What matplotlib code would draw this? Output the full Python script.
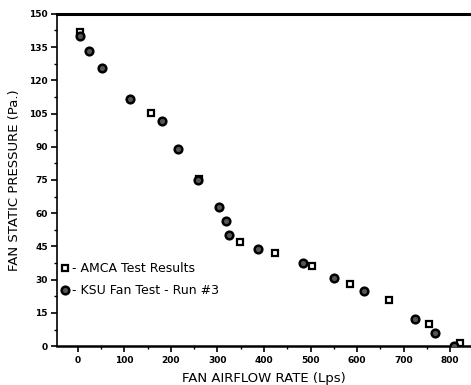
import matplotlib
matplotlib.use("Agg")
import matplotlib.pyplot as plt
from matplotlib.ticker import MultipleLocator

# AMCA test results (airflow Lps, static pressure Pa)
amca_flow = [5, 158, 260, 348, 423, 503, 585, 668, 755, 822]
amca_pres = [142, 105.3, 75.5, 47, 41.9, 36, 28.1, 20.8, 9.9, 1.4]

# KSU fan test - run #3
ksu_flow = [5, 24, 51, 113, 180, 216, 258, 303, 318, 325, 388, 483, 551, 615, 725, 768, 808]
ksu_pres = [140, 133.3, 125.6, 111.6, 101.7, 89, 75, 63, 56.6, 50.2, 43.8, 37.6, 30.9, 25, 12.3, 5.7, 0]

x_ticks = [0, 100, 200, 300, 400, 500, 600, 700, 800]
y_ticks = [0, 15, 30, 45, 60, 75, 90, 105, 120, 135, 150]

plt.rcParams["font.family"] = "DejaVu Sans"

fig = plt.figure(figsize=(4.71, 3.85), dpi=100)
ax = fig.add_axes([0.122, 0.101, 0.878, 0.863])

ax.plot(amca_flow, amca_pres, linestyle="none", marker="s", markersize=5,
        mfc="white", mec="black", mew=1.6, label="- AMCA Test Results", zorder=3)
ax.plot(ksu_flow, ksu_pres, linestyle="none", marker="o", markersize=5.5,
        mfc="#555555", mec="black", mew=1.8, label="- KSU Fan Test - Run #3", zorder=3)

ax.set_xlim(-44, 845)
ax.set_ylim(0, 150)
ax.set_xticks(x_ticks)
ax.set_yticks(y_ticks)
ax.xaxis.set_minor_locator(MultipleLocator(50))
ax.yaxis.set_minor_locator(MultipleLocator(7.5))
ax.tick_params(axis="both", which="major", direction="out", length=4, width=1.2,
               labelsize=6.5, pad=3)
ax.tick_params(axis="both", which="minor", direction="out", length=2, width=1)
for lab in ax.get_xticklabels() + ax.get_yticklabels():
    lab.set_fontweight("bold")

ax.spines["right"].set_visible(False)
ax.spines["top"].set_linewidth(2.2)
ax.spines["bottom"].set_linewidth(1.8)
ax.spines["left"].set_linewidth(1.2)

ax.set_xlabel("FAN AIRFLOW RATE (Lps)", fontsize=9.5, labelpad=5)
ax.set_ylabel("FAN STATIC PRESSURE (Pa.)", fontsize=9.5, labelpad=6)

ax.legend(loc="lower left", bbox_to_anchor=(-0.01, 0.132), frameon=False,
          fontsize=9, handletextpad=0.1, handlelength=1.0, borderaxespad=0,
          labelspacing=0.75)

fig.savefig("out.png", dpi=100, facecolor="white")
